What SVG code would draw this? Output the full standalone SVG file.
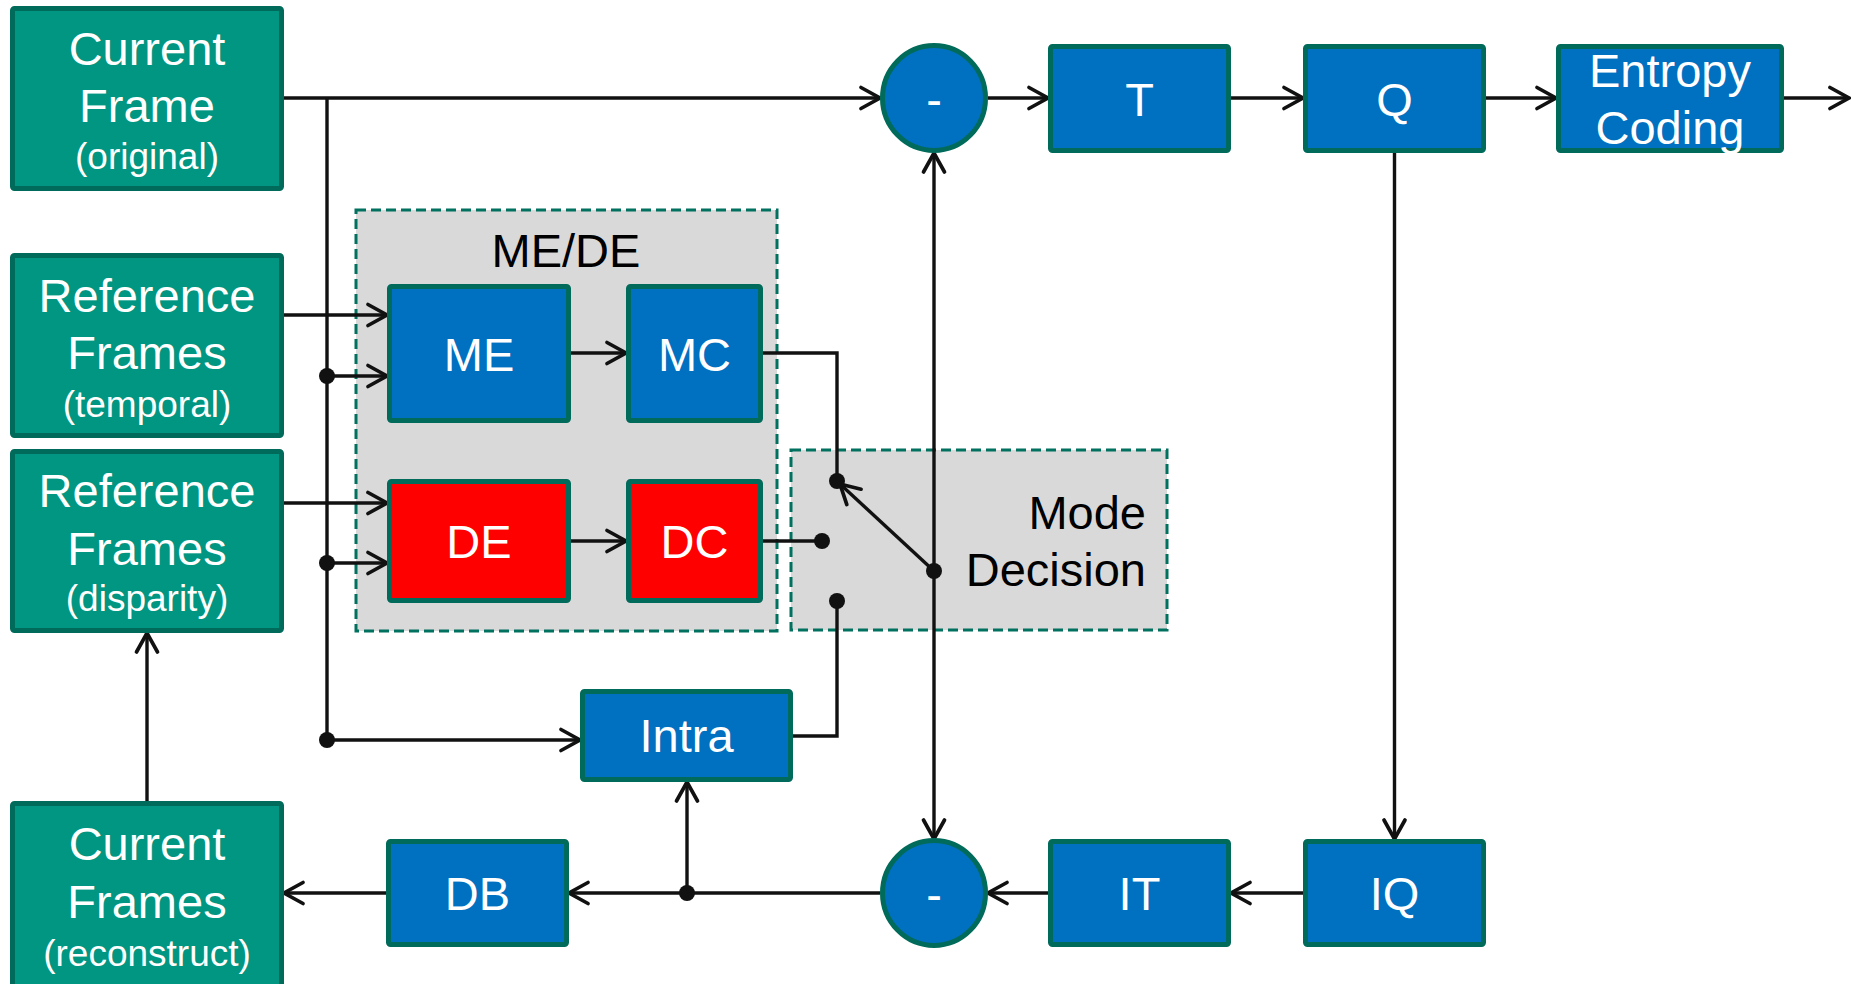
<svg xmlns="http://www.w3.org/2000/svg" width="1851" height="984" viewBox="0 0 1851 984">
  <style>
    .frame { fill: #009681; stroke: #006B5A; stroke-width: 5; }
    .blk { fill: #0070C0; stroke: #006B5A; stroke-width: 5; }
    .red { fill: #FF0000; stroke: #006B5A; stroke-width: 5; }
    .grp { fill: #D9D9D9; stroke: #00705F; stroke-width: 3; stroke-dasharray: 10 5; }
    .wt { fill: #FFFFFF; font-family: "Liberation Sans", Arial, sans-serif; font-size: 47px; text-anchor: middle; }
    .ws { fill: #FFFFFF; font-family: "Liberation Sans", Arial, sans-serif; font-size: 37px; text-anchor: middle; }
    .bt { fill: #000000; font-family: "Liberation Sans", Arial, sans-serif; font-size: 47px; }
    .ln { fill: none; stroke: #111111; stroke-width: 3.4; }
    .arr { marker-end: url(#ah); }
    .dot { fill: #111111; }
  </style>
  <defs>
    <marker id="ah" markerUnits="userSpaceOnUse" markerWidth="26" markerHeight="28" viewBox="0 0 26 28" refX="22" refY="14" orient="auto-start-reverse">
      <path d="M3,3.5 L22,14 L3,24.5" fill="none" stroke="#111111" stroke-width="3.7" stroke-linecap="round" stroke-linejoin="miter"/>
    </marker>
  </defs>

  <rect width="1851" height="984" fill="#FFFFFF"/>

  <!-- grouping frames -->
  <g id="me-de-group">
    <rect class="grp" x="356" y="210" width="421" height="421"/>
    <text class="bt" x="566" y="267" text-anchor="middle">ME/DE</text>
  </g>
  <g id="mode-decision-group">
    <rect class="grp" x="791" y="450" width="376" height="180"/>
    <text class="bt" x="1146" y="529" text-anchor="end">Mode</text>
    <text class="bt" x="1146" y="586" text-anchor="end">Decision</text>
  </g>

  <!-- connectors -->
  <g id="connectors">
    <line class="ln arr" x1="284" y1="98" x2="880" y2="98"/>
    <polyline class="ln" points="327,98 327,740"/>
    <line class="ln arr" x1="284" y1="315" x2="387" y2="315"/>
    <line class="ln arr" x1="327" y1="376" x2="387" y2="376"/>
    <line class="ln arr" x1="284" y1="503" x2="387" y2="503"/>
    <line class="ln arr" x1="327" y1="563" x2="387" y2="563"/>
    <line class="ln arr" x1="327" y1="740" x2="580" y2="740"/>
    <line class="ln arr" x1="571" y1="353" x2="626" y2="353"/>
    <line class="ln arr" x1="571" y1="541" x2="626" y2="541"/>
    <polyline class="ln" points="763,353 837,353 837,481"/>
    <line class="ln" x1="763" y1="541" x2="822" y2="541"/>
    <polyline class="ln" points="793,736 837,736 837,601"/>
    <line class="ln arr" x1="934" y1="571" x2="840" y2="484"/>
    <line class="ln arr" x1="934" y1="153" x2="934" y2="839" marker-start="url(#ah)"/>
    <line class="ln arr" x1="988" y1="98" x2="1048" y2="98"/>
    <line class="ln arr" x1="1231" y1="98" x2="1303" y2="98"/>
    <line class="ln arr" x1="1486" y1="98" x2="1556" y2="98"/>
    <line class="ln arr" x1="1784" y1="98" x2="1849" y2="98"/>
    <line class="ln arr" x1="1394.5" y1="153" x2="1394.5" y2="839"/>
    <line class="ln arr" x1="1303" y1="893" x2="1231" y2="893"/>
    <line class="ln arr" x1="1048" y1="893" x2="988" y2="893"/>
    <line class="ln arr" x1="880" y1="893" x2="569" y2="893"/>
    <line class="ln arr" x1="687" y1="893" x2="687" y2="782"/>
    <line class="ln arr" x1="386" y1="893" x2="284" y2="893"/>
    <line class="ln arr" x1="147" y1="801" x2="147" y2="633"/>
    <circle class="dot" cx="327" cy="376" r="8"/>
    <circle class="dot" cx="327" cy="563" r="8"/>
    <circle class="dot" cx="327" cy="740" r="8"/>
    <circle class="dot" cx="837" cy="481" r="8"/>
    <circle class="dot" cx="822" cy="541" r="8"/>
    <circle class="dot" cx="837" cy="601" r="8"/>
    <circle class="dot" cx="934" cy="571" r="8"/>
    <circle class="dot" cx="687" cy="893" r="8"/>
  </g>

  <!-- frame stores -->
  <g id="current-frame">
    <rect class="frame" x="12.5" y="8.5" width="269" height="180" rx="2"/>
    <text class="wt" x="147" y="65">Current</text>
    <text class="wt" x="147" y="122">Frame</text>
    <text class="ws" x="147" y="169">(original)</text>
  </g>
  <g id="ref-temporal">
    <rect class="frame" x="12.5" y="255.5" width="269" height="180" rx="2"/>
    <text class="wt" x="147" y="312">Reference</text>
    <text class="wt" x="147" y="369">Frames</text>
    <text class="ws" x="147" y="417">(temporal)</text>
  </g>
  <g id="ref-disparity">
    <rect class="frame" x="12.5" y="451.5" width="269" height="179" rx="2"/>
    <text class="wt" x="147" y="507">Reference</text>
    <text class="wt" x="147" y="565">Frames</text>
    <text class="ws" x="147" y="611">(disparity)</text>
  </g>
  <g id="current-frames-reconstruct">
    <rect class="frame" x="12.5" y="803.5" width="269" height="190" rx="2"/>
    <text class="wt" x="147" y="860">Current</text>
    <text class="wt" x="147" y="918">Frames</text>
    <text class="ws" x="147" y="966">(reconstruct)</text>
  </g>

  <!-- estimation / compensation -->
  <g id="me">
    <rect class="blk" x="389.5" y="286.5" width="179" height="134" rx="2"/>
    <text class="wt" x="479" y="371">ME</text>
  </g>
  <g id="mc">
    <rect class="blk" x="628.5" y="286.5" width="132" height="134" rx="2"/>
    <text class="wt" x="694.5" y="371">MC</text>
  </g>
  <g id="de">
    <rect class="red" x="389.5" y="481.5" width="179" height="119" rx="2"/>
    <text class="wt" x="479" y="558">DE</text>
  </g>
  <g id="dc">
    <rect class="red" x="628.5" y="481.5" width="132" height="119" rx="2"/>
    <text class="wt" x="694.5" y="558">DC</text>
  </g>
  <g id="intra">
    <rect class="blk" x="582.5" y="691.5" width="208" height="88" rx="2"/>
    <text class="wt" x="686.5" y="752">Intra</text>
  </g>

  <!-- residual path -->
  <g id="sub-top">
    <ellipse class="blk" cx="934" cy="98" rx="51.5" ry="52.5"/>
    <text class="wt" x="934" y="116">-</text>
  </g>
  <g id="t">
    <rect class="blk" x="1050.5" y="46.5" width="178" height="104" rx="2"/>
    <text class="wt" x="1139.5" y="116">T</text>
  </g>
  <g id="q">
    <rect class="blk" x="1305.5" y="46.5" width="178" height="104" rx="2"/>
    <text class="wt" x="1394.5" y="116">Q</text>
  </g>
  <g id="entropy">
    <rect class="blk" x="1558.5" y="46.5" width="223" height="104" rx="2"/>
    <text class="wt" x="1670" y="87">Entropy</text>
    <text class="wt" x="1670" y="144">Coding</text>
  </g>

  <!-- reconstruction path -->
  <g id="iq">
    <rect class="blk" x="1305.5" y="841.5" width="178" height="103" rx="2"/>
    <text class="wt" x="1394.5" y="910">IQ</text>
  </g>
  <g id="it">
    <rect class="blk" x="1050.5" y="841.5" width="178" height="103" rx="2"/>
    <text class="wt" x="1139.5" y="910">IT</text>
  </g>
  <g id="sub-bottom">
    <ellipse class="blk" cx="934" cy="893" rx="51.5" ry="52.5"/>
    <text class="wt" x="934" y="911">-</text>
  </g>
  <g id="db">
    <rect class="blk" x="388.5" y="841.5" width="178" height="103" rx="2"/>
    <text class="wt" x="477.5" y="910">DB</text>
  </g>
</svg>
